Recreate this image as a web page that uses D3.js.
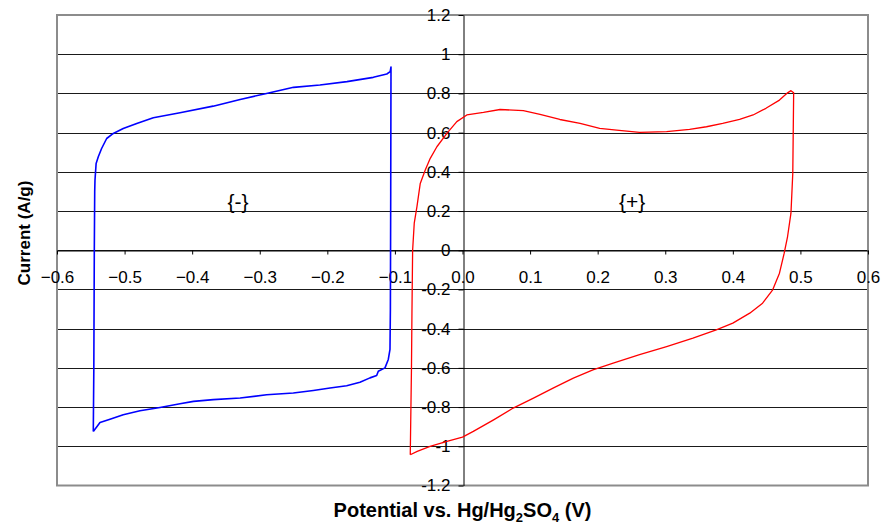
<!DOCTYPE html>
<html>
<head>
<meta charset="utf-8">
<script src="https://cdn.jsdelivr.net/npm/d3@7"></script>
<style>
  body { margin: 0; background: #fff; }
  text { font-family: Arial, "Liberation Sans", sans-serif; }
</style>
</head>
<body>
<div id="cv_chart"></div>
<script>

// negative electrode loop {-} (potential V, current A/g)
var negPotential = [-0.5463, -0.5455, -0.5448, -0.5442, -0.5438, -0.5421, -0.5389, -0.534, -0.5265, -0.5167,
  -0.502, -0.482, -0.4575, -0.418, -0.369, -0.329, -0.290, -0.250, -0.211, -0.171,
  -0.132, -0.112, -0.107, -0.1058, -0.1062, -0.1067, -0.1073, -0.1098, -0.1147, -0.1246,
  -0.127, -0.1369, -0.1517, -0.1714, -0.196, -0.2207, -0.2503, -0.2898, -0.329, -0.3687,
  -0.398, -0.418, -0.4476, -0.4772, -0.502, -0.5216, -0.5364, -0.5438, -0.5463];
var negCurrent = [-0.925, -0.60, 0.00, 0.30, 0.357, 0.443, 0.477, 0.519, 0.570, 0.596,
  0.621, 0.647, 0.676, 0.701, 0.735, 0.769, 0.800, 0.831, 0.843, 0.860,
  0.882, 0.899, 0.911, 0.935, 0.30, -0.30, -0.506, -0.557, -0.600, -0.617,
  -0.639, -0.651, -0.673, -0.691, -0.703, -0.715, -0.728, -0.737, -0.754, -0.762,
  -0.771, -0.783, -0.802, -0.819, -0.839, -0.862, -0.879, -0.913, -0.925];

// positive electrode loop {+}
var posPotential = [-0.0773, -0.0755, -0.0748, -0.0738, -0.0714, -0.0674, -0.0625, -0.0551, -0.0477, -0.0379,
  -0.0231, -0.0084, 0.0064, 0.031, 0.0556, 0.090, 0.1147, 0.144, 0.174, 0.203,
  0.228, 0.262, 0.302, 0.336, 0.361, 0.385, 0.410, 0.430, 0.449, 0.469,
  0.481, 0.486, 0.490, 0.4887, 0.486, 0.481, 0.476, 0.469, 0.459, 0.444,
  0.425, 0.400, 0.3755, 0.341, 0.302, 0.262, 0.223, 0.193, 0.164, 0.134,
  0.105, 0.075, 0.046, 0.016, 0.0, -0.023, -0.048, -0.067, -0.0773];
var posCurrent = [-1.043, -0.60, -0.321, 0.0, 0.138, 0.222, 0.341, 0.409, 0.469, 0.528,
  0.596, 0.656, 0.690, 0.703, 0.718, 0.712, 0.693, 0.667, 0.647, 0.622,
  0.613, 0.601, 0.605, 0.617, 0.630, 0.647, 0.667, 0.690, 0.724, 0.766,
  0.803, 0.814, 0.803, 0.392, 0.189, 0.070, -0.015, -0.117, -0.202, -0.270,
  -0.321, -0.372, -0.406, -0.448, -0.491, -0.533, -0.576, -0.610, -0.652, -0.703,
  -0.754, -0.805, -0.865, -0.924, -0.953, -0.975, -1.000, -1.026, -1.043];

// tick values
var xTicks = [-0.6, -0.5, -0.4, -0.3, -0.2, -0.1, 0.0, 0.1, 0.2, 0.3, 0.4, 0.5, 0.6];
var yTicks = [-1.2, -1, -0.8, -0.6, -0.4, -0.2, 0, 0.2, 0.4, 0.6, 0.8, 1, 1.2];

// loop labels
var loopNames = ["{-}", "{+}"];
var loopLabelPos = [[-0.332, 0.25], [0.251, 0.25]];

var totalWidth = 883, totalHeight = 531;
var plot = {left: 57, right: 868, top: 15, bottom: 485.5};

var svg = d3.select("#cv_chart").append("svg")
    .attr("width", totalWidth)
    .attr("height", totalHeight);

// scales
var x = d3.scaleLinear()
    .domain([-0.6, 0.6])
    .range([plot.left, plot.right]);
var y = d3.scaleLinear()
    .domain([-1.2, 1.2])
    .range([plot.bottom, plot.top]);

// horizontal gridlines
svg.append("g")
  .selectAll("line")
    .data(yTicks.filter(function(d) { return Math.abs(d) < 1.1; }))
  .enter()
    .append("line")
    .attr("x1", plot.left)
    .attr("x2", plot.right)
    .attr("y1", function(d) { return Math.round(y(d)) + 0.5; })
    .attr("y2", function(d) { return Math.round(y(d)) + 0.5; })
    .attr("stroke", "#1a1a1a")
    .attr("stroke-width", 1);

// plot area border
svg.append("rect")
    .attr("x", plot.left)
    .attr("y", plot.top)
    .attr("width", plot.right - plot.left)
    .attr("height", plot.bottom - plot.top)
    .attr("fill", "none")
    .attr("stroke", "#8c8c8c")
    .attr("stroke-width", 2);

// x axis through zero current
var xAxis = svg.append("g")
    .attr("transform", "translate(0," + (Math.round(y(0)) + 0.5) + ")")
    .call(d3.axisBottom(x)
      .tickValues(xTicks)
      .tickSize(4)
      .tickPadding(16)
      .tickSizeOuter(0)
      .tickFormat(d3.format(".1f")));

// y axis through zero potential
var yAxis = svg.append("g")
    .attr("transform", "translate(" + (Math.round(x(0)) + 0.5) + ",0)")
    .call(d3.axisLeft(y)
      .tickValues(yTicks)
      .tickSize(5)
      .tickPadding(8)
      .tickSizeOuter(0)
      .tickFormat(function(d) { return String(+d.toFixed(1)); }));

svg.selectAll(".domain").attr("stroke", "#000");
svg.selectAll(".tick line").attr("stroke", "#000");
svg.selectAll(".tick text")
    .attr("fill", "#000")
    .style("font-size", "17px")
    .style("font-family", "Arial, 'Liberation Sans', sans-serif");

// curves
var line = d3.line()
    .x(function(d) { return x(d[0]); })
    .y(function(d) { return y(d[1]); });

svg.append("path")
    .datum(negPotential.map(function(v, i) { return [v, negCurrent[i]]; }))
    .attr("d", line)
    .attr("fill", "none")
    .attr("stroke", "#0000ff")
    .attr("stroke-width", 1.6)
    .attr("stroke-linejoin", "round");

svg.append("path")
    .datum(posPotential.map(function(v, i) { return [v, posCurrent[i]]; }))
    .attr("d", line)
    .attr("fill", "none")
    .attr("stroke", "#ff0000")
    .attr("stroke-width", 1.3)
    .attr("stroke-linejoin", "round");

// loop labels
svg.append("g")
  .selectAll("text")
    .data(loopNames)
  .enter()
    .append("text")
    .attr("x", function(d, i) { return x(loopLabelPos[i][0]); })
    .attr("y", function(d, i) { return y(loopLabelPos[i][1]); })
    .attr("text-anchor", "middle")
    .attr("dominant-baseline", "central")
    .attr("font-size", "21px")
    .text(function(d) { return d; });

// axis titles
var xTitle = svg.append("text")
    .attr("x", x(0))
    .attr("y", 517)
    .attr("text-anchor", "middle")
    .attr("font-size", "20px")
    .attr("font-weight", "bold");
xTitle.append("tspan").text("Potential vs. Hg/Hg");
xTitle.append("tspan").attr("font-size", "13px").attr("dy", 5).text("2");
xTitle.append("tspan").attr("dy", -5).text("SO");
xTitle.append("tspan").attr("font-size", "13px").attr("dy", 5).text("4");
xTitle.append("tspan").attr("dy", -5).text(" (V)");

var yTitle = svg.append("text")
    .attr("transform", "translate(30,233) rotate(-90)")
    .attr("text-anchor", "middle")
    .attr("font-size", "17px")
    .attr("font-weight", "bold")
    .text("Current (A/g)");

</script>
</body>
</html>
